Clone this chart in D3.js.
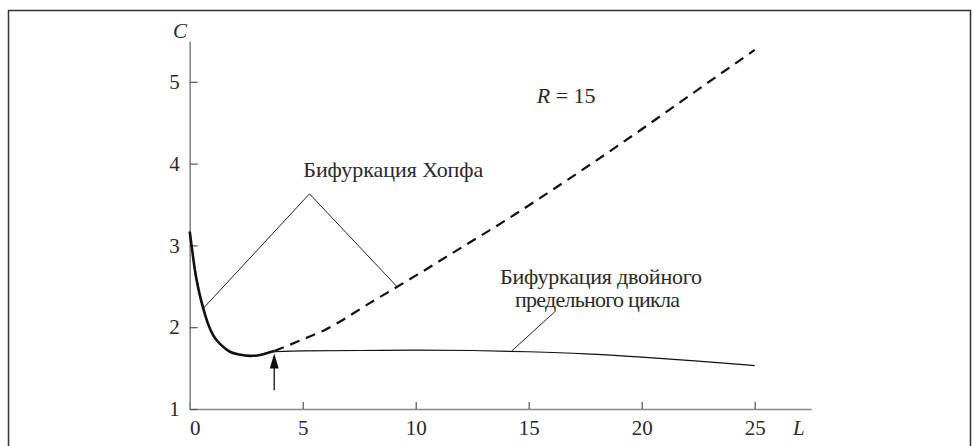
<!DOCTYPE html>
<html>
<head>
<meta charset="utf-8">
<script src="https://cdn.jsdelivr.net/npm/d3@7"></script>
</head>
<body style="margin:0">
<svg width="973" height="446" id="chart"></svg>
<script>
// stable branch (thick solid)
const stableL = [0, 0.12, 0.23, 0.4, 0.6, 0.8, 1.04, 1.4, 1.78, 2.2, 2.67, 3.0, 3.26, 3.5, 3.75];
const stableC = [3.17, 2.92, 2.70, 2.45, 2.23, 2.05, 1.90, 1.78, 1.70, 1.665, 1.65, 1.655, 1.67, 1.69, 1.71];

// Hopf branch (dashed)
const hopfL = [3.75, 5, 6, 8, 10, 12, 14, 16, 18, 20, 22, 25];
const hopfC = [1.71, 1.85, 1.97, 2.30, 2.63, 2.97, 3.31, 3.67, 4.04, 4.42, 4.81, 5.39];

// double limit cycle branch (thin solid)
const dlcL = [3.75, 5, 7.5, 10, 12.5, 15, 17.5, 20, 22.5, 25];
const dlcC = [1.70, 1.71, 1.715, 1.72, 1.715, 1.70, 1.675, 1.635, 1.585, 1.53];

const xTicks = [0, 5, 10, 15, 20, 25];
const yTicks = [1, 2, 3, 4, 5];

const width = 973, height = 446;
const serif = "'Liberation Serif'";

const svg = d3.select("#chart");

// frame
svg.append("path")
    .attr("d", "M8.5," + height + "V10.5H970.5V" + height)
    .attr("fill", "none")
    .attr("stroke", "#333")
    .attr("stroke-width", 1.5);

const x = d3.scaleLinear().domain([0, 27.5]).range([189.7, 811.2]);
const y = d3.scaleLinear().domain([1, 5.5]).range([409, 40.9]);

// axes
const xAxis = svg.append("g")
    .attr("transform", "translate(0," + y(1) + ")")
    .call(d3.axisBottom(x).tickValues(xTicks).tickFormat(d3.format("d"))
        .tickSize(-7).tickSizeOuter(0).tickPadding(11));

const yAxis = svg.append("g")
    .attr("transform", "translate(" + x(0) + ",0)")
    .call(d3.axisLeft(y).tickValues(yTicks).tickFormat(d3.format("d"))
        .tickSize(-8).tickSizeOuter(0).tickPadding(10));

[xAxis, yAxis].forEach(a => {
    a.attr("font-family", null).attr("font-size", null);
    a.select(".domain").attr("stroke", "#888").attr("stroke-width", 1.6);
    a.selectAll(".tick line").attr("stroke", "#555").attr("stroke-width", 1.2);
    a.selectAll(".tick text")
        .style("font-family", serif)
        .style("font-size", "21px")
        .attr("fill", "#2a2a2a");
});
// nudge the zero off the axis line
xAxis.selectAll(".tick text").filter(d => d === 0).attr("dx", 5);

function label(xp, yp, txt, len) {
    const t = svg.append("text")
        .attr("x", xp).attr("y", yp)
        .style("font-family", serif)
        .style("font-size", "22px")
        .attr("fill", "#2a2a2a")
        .text(txt);
    if (len) t.attr("textLength", len).attr("lengthAdjust", "spacing");
    return t;
}

// axis labels
label(173, 38, "C").style("font-style", "italic").style("font-size", "21px");
label(793, 435, "L").style("font-style", "italic").style("font-size", "21px");

// curves
const line = d3.line()
    .x(d => x(d[0]))
    .y(d => y(d[1]))
    .curve(d3.curveMonotoneX);

svg.append("path")
    .datum(dlcL.map((l, i) => [l, dlcC[i]]))
    .attr("d", line)
    .attr("fill", "none")
    .attr("stroke", "#111")
    .attr("stroke-width", 1.2);

svg.append("path")
    .datum(hopfL.map((l, i) => [l, hopfC[i]]))
    .attr("d", line)
    .attr("fill", "none")
    .attr("stroke", "#111")
    .attr("stroke-width", 2.2)
    .attr("stroke-dasharray", "10,7");

svg.append("path")
    .datum(stableL.map((l, i) => [l, stableC[i]]))
    .attr("d", line)
    .attr("fill", "none")
    .attr("stroke", "#111")
    .attr("stroke-width", 2.6);

// pointer lines
const straight = d3.line().x(d => x(d[0])).y(d => y(d[1]));

svg.append("path")
    .attr("d", straight([[0.6, 2.23], [5.3, 3.63], [9.16, 2.5]]))
    .attr("fill", "none")
    .attr("stroke", "#222")
    .attr("stroke-width", 1);

svg.append("path")
    .attr("d", straight([[14.25, 1.71], [16.16, 2.19]]))
    .attr("fill", "none")
    .attr("stroke", "#222")
    .attr("stroke-width", 1);

// arrow at the branching point
const ax = x(3.74), tip = y(1.68);
svg.append("line")
    .attr("x1", ax).attr("x2", ax)
    .attr("y1", y(1.23)).attr("y2", tip + 10)
    .attr("stroke", "#111")
    .attr("stroke-width", 1.3);
svg.append("path")
    .attr("d", "M" + ax + "," + tip + "L" + (ax - 4.5) + "," + (tip + 15) + "L" + (ax + 4.5) + "," + (tip + 15) + "Z")
    .attr("fill", "#111");

// annotations
label(303.3, 176.7, "Бифуркация Хопфа", 180);
label(500, 284, "Бифуркация двойного", 202);
label(515, 307, "предельного цикла", 165);

const rLabel = label(536.7, 102.7, "");
rLabel.append("tspan").style("font-style", "italic").text("R");
rLabel.append("tspan").text(" = 15");
</script>
</body>
</html>
